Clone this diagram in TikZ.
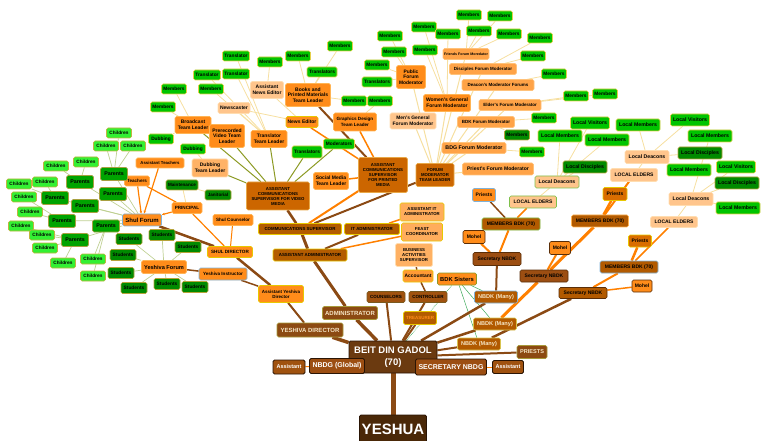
\documentclass[tikz,border=0pt]{standalone}
\usepackage{fontspec}
\setmainfont{Liberation Sans}
\usetikzlibrary{arrows.meta, backgrounds}
\newcommand{\fsz}[2]{\fontsize{#1}{#2}\selectfont\bfseries}

\definecolor{memgreen}{HTML}{00C400}
\definecolor{memedge}{HTML}{E6CF4A}
\definecolor{darkgreen}{HTML}{008A00}
\definecolor{darkedge}{HTML}{B7A33A}
\definecolor{kidgreen}{HTML}{33F033}
\definecolor{kidedge}{HTML}{C2B33F}
\definecolor{pargreen}{HTML}{00A300}
\definecolor{paredge}{HTML}{A8A040}
\definecolor{leadorange}{HTML}{FF8C1A}
\definecolor{leadedge}{HTML}{FFB454}
\definecolor{forumorange}{HTML}{FFA347}
\definecolor{forumedge}{HTML}{FFC27A}
\definecolor{peach}{HTML}{FFC58C}
\definecolor{peachedge}{HTML}{FFDDB0}
\definecolor{rust}{HTML}{CC6600}
\definecolor{rustedge}{HTML}{E8A848}
\definecolor{supfill}{HTML}{B35C00}
\definecolor{supedge}{HTML}{E8C800}
\definecolor{brnfill}{HTML}{8C4A12}
\definecolor{brnedge}{HTML}{A89A3A}
\definecolor{cream}{HTML}{F6E6C6}
\definecolor{nbdkfill}{HTML}{B25A00}
\definecolor{nbdkedge}{HTML}{D8C450}
\definecolor{tinyfill}{HTML}{A0520F}
\definecolor{tinyedge}{HTML}{7A5A20}
\definecolor{secfill}{HTML}{9C4E12}
\definecolor{secedge}{HTML}{5A2E08}
\definecolor{bdgfill}{HTML}{6B3A10}
\definecolor{bdgedge}{HTML}{2A1505}
\definecolor{yesfill}{HTML}{4A2808}
\definecolor{blueedge}{HTML}{7FB2D9}
\definecolor{grnedge}{HTML}{7DC04B}
\definecolor{trunkc}{HTML}{8B4A14}
\definecolor{orangec}{HTML}{FF8000}
\definecolor{palec}{HTML}{F6DFA0}
\definecolor{olivec}{HTML}{8C9A24}
\definecolor{kidc}{HTML}{BFD092}
\definecolor{grnc}{HTML}{3DAA5A}

\tikzset{
  box/.style={rounded corners=1.5pt, inner sep=0.8pt, align=center, line width=0.6pt, font=\fsz{5}{5.6}},
  mem/.style={box, fill=memgreen, draw=memedge, minimum width=25pt, minimum height=10pt, font=\fsz{4.8}{5.4}},
  memd/.style={mem, fill=darkgreen, draw=darkedge},
  kid/.style={mem, fill=kidgreen, draw=kidedge, font=\fsz{4.7}{5.3}},
  par/.style={box, fill=pargreen, draw=paredge, minimum width=27pt, minimum height=13pt, font=\fsz{5.3}{6}},
  loc/.style={mem, minimum width=44pt, minimum height=12pt, font=\fsz{5.2}{6}},
  lead/.style={box, fill=leadorange, draw=leadedge},
  forum/.style={box, fill=forumorange, draw=forumedge, minimum height=11pt, font=\fsz{4.5}{5.2}},
  peachbox/.style={box, fill=peach, draw=peachedge},
  rustbox/.style={box, fill=rust, draw=rustedge, font=\fsz{4.3}{5}},
  supbox/.style={box, fill=supfill, draw=supedge, font=\fsz{4.4}{5}},
  brnbox/.style={box, fill=brnfill, draw=brnedge, text=cream, font=\fsz{6}{7}},
  nbdkbox/.style={box, fill=nbdkfill, draw=nbdkedge, text=cream, minimum width=43pt, minimum height=12pt, font=\fsz{5.6}{6.5}},
  tinybrn/.style={box, fill=tinyfill, draw=tinyedge, minimum width=38pt, minimum height=11pt, font=\fsz{4.5}{5}},
  secbox/.style={box, fill=secfill, draw=secedge, minimum width=48pt, minimum height=12pt, font=\fsz{5}{6}},
  mbdkbox/.style={box, fill=nbdkfill, draw=leadedge, minimum width=58pt, minimum height=12pt, font=\fsz{5}{6}},
  topbox/.style={box, fill=bdgfill, draw=bdgedge, text=white, line width=0.8pt},
  trunk/.style={draw=trunkc, line width=#1}, trunk/.default=4pt,
  orng/.style={draw=orangec, line width=#1}, orng/.default=1.2pt,
  pl/.style={draw=palec, line width=0.8pt},
  olv/.style={draw=olivec, line width=1pt},
  kl/.style={draw=kidc, line width=0.7pt},
  gl/.style={draw=grnc, line width=0.5pt},
  tip/.style={-{Stealth[length=3pt, width=2.5pt]}}
}

\begin{document}
\begin{tikzpicture}[x=1pt, y=-1pt]
\useasboundingbox (0,0) rectangle (761,441);

% core of the tree
\node[topbox, fill=yesfill, minimum width=67pt, minimum height=28pt, font=\fsz{15}{17}] (yeshua) at (393,429) {YESHUA};
\node[topbox, minimum width=88pt, minimum height=32pt, font=\fsz{9.5}{11.5}] (bdg) at (393,357) {BEIT DIN GADOL\\(70)};
\node[topbox, fill=secfill, minimum width=55pt, minimum height=15pt, font=\fsz{7}{8}] (nbdg) at (337,366) {NBDG (Global)};
\node[topbox, fill=secfill, minimum width=71pt, minimum height=16pt, font=\fsz{7}{8}] (secn) at (451,367) {SECRETARY NBDG};
\node[topbox, fill=tinyfill, minimum width=32pt, minimum height=14pt, font=\fsz{5.5}{6}] (asl) at (289,367) {Assistant};
\node[topbox, fill=tinyfill, minimum width=31pt, minimum height=13pt, font=\fsz{5.5}{6}] (asr) at (508,367) {Assistant};
\node[brnbox, minimum width=30pt, minimum height=13pt, font=\fsz{5.6}{6.5}] (priests) at (532,352) {PRIESTS};
\node[brnbox, minimum width=55pt, minimum height=13pt] (admin) at (350,313) {ADMINISTRATOR};
\node[brnbox, minimum width=66pt, minimum height=14pt] (ydir) at (310,330) {YESHIVA DIRECTOR};
\node[nbdkbox, draw=blueedge] (nbdk1) at (496,297) {NBDK (Many)};
\node[nbdkbox] (nbdk2) at (495,324) {NBDK (Many)};
\node[nbdkbox] (nbdk3) at (479,344) {NBDK (Many)};
\node[tinybrn] (couns) at (386,297) {COUNSELORS};
\node[tinybrn] (ctrl) at (428,297) {CONTROLLER};
\node[tinybrn, text=leadorange, fill=supfill, draw=supedge, minimum width=33pt, minimum height=13pt] (treas) at (420,318) {TREASURER};

% administration
\node[supbox, minimum width=83pt, minimum height=11pt] (comsup) at (300,229) {COMMUNICATIONS SUPERVISOR};
\node[supbox, minimum width=55pt, minimum height=11pt] (itadm) at (372,229) {IT ADMINISTRATOR};
\node[supbox, minimum width=74pt, minimum height=12pt] (asadm) at (310,255) {ASSISTANT ADMINISTRATOR};
\node[peachbox, draw=supedge, fill=forumorange!70!peach, minimum width=44pt, minimum height=18pt, font=\fsz{4.3}{5}] (aitadm) at (422,212) {ASSISTANT IT\\ADMINISTRATOR};
\node[peachbox, draw=supedge, fill=forumorange!70!peach, minimum width=41pt, minimum height=18pt, font=\fsz{4.3}{5}] (feast) at (422,232) {FEAST\\COORDINATOR};
\node[peachbox, fill=forumorange!60!peach, minimum width=37pt, minimum height=23pt, font=\fsz{4.3}{5}] (bas) at (414,255) {BUSINESS\\ACTIVITIES\\SUPERVISOR};
\node[lead, fill=forumorange!60!leadorange, draw=supedge, minimum width=30pt, minimum height=12pt, font=\fsz{4.9}{5.5}] (acct) at (418,276) {Accountant};
\node[lead, draw=olivec, minimum width=39pt, minimum height=12pt, font=\fsz{5.8}{6.5}] (bdks) at (457,279) {BDK Sisters};

% media
\node[rustbox, minimum width=63pt, minimum height=28pt] (acsv) at (278,196) {ASSISTANT\\COMMUNICATIONS\\SUPERVISOR FOR VIDEO\\MEDIA};
\node[rustbox, minimum width=49pt, minimum height=35pt] (acsp) at (383,175) {ASSISTANT\\COMMUNICATIONS\\SUPERVISOR\\FOR PRINTED\\MEDIA};
\node[lead, minimum width=35pt, minimum height=17pt] (smtl) at (331,181) {Social Media\\Team Leader};
\node[lead, minimum width=36pt, minimum height=17pt] (bcast) at (193,125) {Broadcast\\Team Leader};
\node[lead, minimum width=35pt, minimum height=23pt] (prerec) at (227,136) {Prerecorded\\Video Team\\Leader};
\node[lead, minimum width=36pt, minimum height=17pt] (trtl) at (269,139) {Translator\\Team Leader};
\node[peachbox, fill=forumorange!55!peach, minimum width=36pt, minimum height=18pt] (dubtl) at (210,168) {Dubbing\\Team Leader};
\node[peachbox, minimum width=32pt, minimum height=11pt] (newsc) at (234,108) {Newscaster};
\node[peachbox, minimum width=33pt, minimum height=17pt] (ane) at (267,90) {Assistant\\News Editor};
\node[lead, minimum width=45pt, minimum height=23pt] (books) at (308,95) {Books and\\Printed Materials\\Team Leader};
\node[lead, draw=supedge, minimum width=32pt, minimum height=11pt] (nedit) at (302,122) {News Editor};
\node[lead, minimum width=43pt, minimum height=18pt, font=\fsz{4.6}{5.3}] (graph) at (355,122) {Graphics Design\\Team Leader};
\node[mem, minimum width=31pt] (mod) at (339,144) {Moderators};
\node[mem, minimum width=30pt, minimum height=12pt] (tL) at (307,152) {Translators};
\node[mem, minimum width=27pt] (tr1) at (236,56) {Translator};
\node[mem, minimum width=27pt] (tr2) at (207,75) {Translator};
\node[mem, minimum width=27pt] (tr3) at (236,74) {Translator};
\node[mem] (mT) at (211,89) {Members};
\node[mem] (mB1) at (270,62) {Members};
\node[mem] (mB2) at (298,56) {Members};
\node[mem] (mB3) at (340,46) {Members};
\node[mem, minimum width=30pt] (tB) at (322,72) {Translators};
\node[mem] (mBc1) at (174,89) {Members};
\node[mem] (mBc2) at (163,107) {Members};
\node[mem] (dub1) at (161,139) {Dubbing};
\node[mem] (dub2) at (193,149) {Dubbing};

% forums
\node[rustbox, minimum width=38pt, minimum height=23pt] (fmtl) at (435,175) {FORUM\\MODERATOR\\TEAM LEADER};
\node[lead, minimum width=29pt, minimum height=23pt, font=\fsz{4.9}{5.6}] (pub) at (411,77) {Public\\Forum\\Moderator};
\node[lead, minimum width=47pt, minimum height=17pt] (wgen) at (447,103) {Women's General\\Forum Moderator};
\node[peachbox, minimum width=46pt, minimum height=16pt, font=\fsz{4.9}{5.6}] (mgen) at (413,121) {Men's General\\Forum Moderator};
\node[forum, minimum width=46pt, font=\fsz{3.6}{4.2}] (friends) at (466,54) {Friends Forum Moredator};
\node[forum, minimum width=67pt] (disc) at (483,69) {Disciples Forum Moderator};
\node[forum, minimum width=72pt] (deac) at (498,85) {Deacon's Moderator Forums};
\node[forum, minimum width=62pt] (elder) at (510,105) {Elder's Forum Moderator};
\node[forum, minimum width=57pt] (bdkf) at (486,122) {BDK Forum Moderator};
\node[forum, minimum width=64pt, font=\fsz{5.3}{6}] (bdgf) at (474,148) {BDG Forum Moderator};
\node[forum, minimum width=71pt, minimum height=12pt, font=\fsz{5.1}{6}] (priestf) at (498,169) {Priest's Forum Moderator};
\node[mem] (mA) at (469,15) {Members};
\node[mem] (mB) at (500,16) {Members};
\node[mem] (mC) at (479,31) {Members};
\node[mem] (mD) at (509,34) {Members};
\node[mem] (mE) at (540,38) {Members};
\node[mem] (mF) at (533,56) {Members};
\node[mem] (mG) at (554,74) {Members};
\node[mem] (mH) at (576,96) {Members};
\node[mem] (mI) at (605,94) {Members};
\node[mem] (mJ) at (544,118) {Members};
\node[memd] (mK) at (517,135) {Members};
\node[mem] (mL) at (532,152) {Members};
\node[mem] (mW1) at (424,27) {Members};
\node[mem] (mW2) at (448,34) {Members};
\node[mem] (mW3) at (425,50) {Members};
\node[mem] (mP1) at (390,36) {Members};
\node[mem] (mP2) at (394,52) {Members};
\node[mem] (mP3) at (377,65) {Members};
\node[mem, minimum width=30pt] (tP) at (377,82) {Translators};
\node[mem] (mP4) at (380,101) {Members};
\node[mem] (mP5) at (354,101) {Members};

% BDK branches
\node[lead, draw=blueedge, minimum width=23pt, minimum height=13pt] (pr1) at (484,195) {Priests};
\node[peachbox, draw=grnedge, minimum width=47pt, minimum height=12pt] (le1) at (533,202) {LOCAL ELDERS};
\node[mbdkbox, draw=grnedge] (mbdk1) at (511,224) {MEMBERS BDK (70)};
\node[lead, draw=secedge, minimum width=22pt, minimum height=13pt] (moh1) at (474,237) {Mohel};
\node[secbox, minimum height=13pt] (sec1) at (497,259) {Secretary NBDK};
\node[lead, draw=secedge, minimum width=21pt, minimum height=13pt] (moh2) at (560,248) {Mohel};
\node[secbox] (sec2) at (544,276) {Secretary NBDK};
\node[secbox, fill=nbdkfill, minimum height=11pt] (sec3) at (583,293) {Secretary NBDK};
\node[lead, draw=secedge, minimum width=20pt, minimum height=12pt] (moh3) at (642,286) {Mohel};
\node[mbdkbox, minimum width=57pt] (mbdk2) at (600,221) {MEMBERS BDK (70)};
\node[lead, fill=orangec!85!black, draw=supedge, minimum width=24pt, minimum height=13pt] (pr2) at (615,194) {Priests};
\node[peachbox, minimum width=47pt, minimum height=13pt] (le2) at (634,175) {LOCAL ELDERS};
\node[lead, fill=orangec!85!black, draw=supedge, minimum width=23pt, minimum height=12pt] (pr3) at (640,241) {Priests};
\node[peachbox, minimum width=47pt, minimum height=11pt] (le3) at (674,222) {LOCAL ELDERS};
\node[mbdkbox, draw=blueedge] (mbdk3) at (629,267) {MEMBERS BDK (70)};
\node[peachbox, draw=grnedge, minimum width=44pt, minimum height=12pt, font=\fsz{5.2}{6}] (ldc1) at (557,182) {Local Deacons};
\node[peachbox, minimum width=44pt, minimum height=13pt, font=\fsz{5.2}{6}] (ldc2) at (647,157) {Local Deacons};
\node[peachbox, minimum width=44pt, minimum height=13pt, font=\fsz{5.2}{6}] (ldc3) at (691,199) {Local Deacons};
\node[loc, minimum width=39pt] (lv1) at (590,123) {Local Visitors};
\node[loc] (lm1) at (638,125) {Local Members};
\node[loc, minimum width=39pt] (lv2) at (690,120) {Local Visitors};
\node[loc] (lm2) at (710,136) {Local Members};
\node[loc] (lm3) at (607,140) {Local Members};
\node[loc] (lm4) at (560,136) {Local Members};
\node[loc, fill=darkgreen, draw=darkedge] (ld1) at (585,167) {Local Disciples};
\node[loc, fill=darkgreen, draw=darkedge] (ldi2) at (700,153) {Local Disciples};
\node[loc] (lm5) at (689,170) {Local Members};
\node[loc, minimum width=39pt] (lv3) at (736,167) {Local Visitors};
\node[loc, fill=darkgreen, draw=darkedge] (ldi3) at (737,183) {Local Disciples};
\node[loc] (lm6) at (738,208) {Local Members};

% schools
\node[lead, draw=blueedge, minimum width=39pt, minimum height=12pt, font=\fsz{6}{7}] (shul) at (142,220) {Shul Forum};
\node[lead, minimum width=45pt, minimum height=13pt, font=\fsz{5.6}{6.5}] (yf) at (164,267) {Yeshiva Forum};
\node[lead, minimum width=25pt, minimum height=10pt, font=\fsz{4.6}{5.2}] (teach) at (137,181) {Teachers};
\node[lead, minimum width=48pt, minimum height=10pt, font=\fsz{4.3}{5}] (ateach) at (160,163) {Assistant Teachers};
\node[memd, minimum width=32pt, font=\fsz{4.6}{5.2}] (maint) at (182,185) {Maintenance};
\node[lead, minimum width=30pt, minimum height=11pt, font=\fsz{4.6}{5.2}] (princ) at (187,208) {PRINCIPAL};
\node[memd, minimum width=26pt, font=\fsz{4.6}{5.2}] (jan) at (218,195) {Janitorial};
\node[lead, minimum width=40pt, minimum height=11pt, font=\fsz{4.6}{5.2}] (scoun) at (233,220) {Shul Counselor};
\node[lead, draw=supedge, minimum width=45pt, minimum height=11pt, font=\fsz{4.6}{5.2}] (sdir) at (230,252) {SHUL DIRECTOR};
\node[lead, draw=blueedge, minimum width=48pt, minimum height=12pt, font=\fsz{4.6}{5.2}] (yins) at (223,274) {Yeshiva Instructor};
\node[lead, draw=supedge, minimum width=45pt, minimum height=17pt, font=\fsz{4.5}{5.2}] (ayd) at (281,294) {Assistant Yeshiva\\Director};
\node[par] (p1) at (114,174) {Parents};
\node[par] (p2) at (113,194) {Parents};
\node[par] (p3) at (80,182) {Parents};
\node[par] (p4) at (55,198) {Parents};
\node[par] (p5) at (85,206) {Parents};
\node[par] (p6) at (62,221) {Parents};
\node[par, minimum height=12pt] (p7) at (106,226) {Parents};
\node[par] (p8) at (75,240) {Parents};
\node[kid] (c1) at (119,133) {Children};
\node[kid] (c2) at (106,146) {Children};
\node[kid] (c3) at (133,146) {Children};
\node[kid] (c4) at (86,162) {Children};
\node[kid] (c5) at (56,166) {Children};
\node[kid] (c6) at (45,182) {Children};
\node[kid] (c7) at (19,184) {Children};
\node[kid] (c8) at (24,197) {Children};
\node[kid] (c9) at (30,212) {Children};
\node[kid] (c10) at (21,226) {Children};
\node[kid] (c11) at (42,235) {Children};
\node[kid] (c12) at (45,248) {Children};
\node[kid] (c13) at (63,263) {Children};
\node[kid] (c14) at (93,259) {Children};
\node[kid] (c15) at (93,276) {Children};
\node[memd, minimum width=26pt, minimum height=11pt] (s1) at (129,239) {Students};
\node[memd, minimum width=26pt, minimum height=11pt] (s2) at (162,235) {Students};
\node[memd, minimum width=26pt, minimum height=11pt] (s3) at (123,255) {Students};
\node[memd, minimum width=26pt, minimum height=11pt] (s4) at (121,273) {Students};
\node[memd, minimum width=26pt, minimum height=11pt] (s5) at (134,288) {Students};
\node[memd, minimum width=26pt, minimum height=11pt] (s6) at (167,284) {Students};
\node[memd, minimum width=26pt, minimum height=11pt] (s7) at (188,247) {Students};
\node[memd, minimum width=26pt, minimum height=11pt] (s8) at (195,287) {Students};

% connectors
\begin{scope}[on background layer]
\draw[trunk=5pt] (yeshua) -- (bdg);
\draw[trunk=3pt] (bdg) -- (nbdg);
\draw[orng=1pt] (nbdg) -- (asl);
\draw[trunk=3pt] (bdg) -- (secn);
\draw[orng=1pt] (secn) -- (asr);
\draw[trunk=2pt] (bdg) -- (priests);
\draw[trunk=3.5pt] (bdg) -- (ydir);
\draw[trunk=2pt] (ydir) -- (ayd);
\draw[trunk=3.5pt] (bdg) -- (admin);
\draw[trunk=2pt] (bdg) -- (couns);
\draw[trunk=2pt] (bdg) -- (ctrl);
\draw[trunk=2pt] (bdg) -- (treas);
\draw[trunk=1.5pt] (ctrl) -- (acct);
\draw[trunk=1.5pt] (acct) -- (bas);
\draw[gl, densely dotted, line width=0.8pt] (bdg) -- (bdks);
\foreach \n in {nbdk1,nbdk2,nbdk3} \draw[gl] (bdks) -- (\n);
\draw[trunk=2.5pt] (bdg) -- (nbdk1);
\draw[trunk=2.5pt] (bdg) -- (nbdk2);
\draw[trunk=2pt] (bdg) -- (nbdk3);
\draw[trunk=2pt] (nbdk1) -- (sec1);
\draw[orng=3pt] (nbdk2) -- (sec2);
\draw[trunk=2.5pt] (nbdk3) -- (sec3);
\draw[orng=2pt] (sec1) -- (moh1);
\draw[orng=2pt] (sec1) -- (mbdk1);
\draw[trunk=1.5pt] (mbdk1) -- (pr1);
\draw[orng=1.5pt] (mbdk1) -- (le1);
\draw[pl] (le1) -- (ldc1);
\foreach \n in {ld1,lm4,lm3,lv1} \draw[pl] (ldc1) -- (\n);
\draw[orng=2pt] (sec2) -- (moh2);
\draw[orng=3pt] (sec2) -- (mbdk2);
\draw[orng=2.5pt] (mbdk2) -- (pr2);
\draw[orng=2pt] (mbdk2) -- (le2);
\draw[pl] (le2) -- (ldc2);
\foreach \n in {ldi2,lm5,lm1,lv2} \draw[pl] (ldc2) -- (\n);
\draw[orng=1.5pt] (sec3) -- (moh3);
\draw[orng=2pt] (sec3) -- (mbdk3);
\draw[orng=2.5pt] (mbdk3) -- (pr3);
\draw[orng=1.5pt] (mbdk3) -- (le3);
\draw[pl] (le3) -- (ldc3);
\foreach \n in {lv3,ldi3,lm6,lm2} \draw[pl] (ldc3) -- (\n);
% administration
\draw[trunk=3pt] (admin) -- (asadm);
\draw[trunk=3pt] (asadm) -- (comsup);
\draw[trunk=2pt] (asadm) -- (itadm);
\draw[orng=1.5pt] (asadm) -- (feast);
\draw[orng=1.5pt] (itadm) -- (aitadm);
\draw[trunk=2.5pt] (comsup) -- (acsv);
\draw[orng=2pt] (comsup) -- (acsp);
\draw[trunk=2pt] (comsup) -- (fmtl);
\draw[trunk=2pt] (acsp) -- (books);
\draw[orng=1.5pt] (acsp) -- (nedit);
\draw[orng=1.5pt] (acsp) -- (graph);
\draw[orng=1.5pt] (acsp) -- (smtl);
\draw[olv] (acsv) -- (mod);
\draw[olv] (acsv) -- (tL);
\foreach \n in {bcast,prerec,trtl,dubtl} \draw[olv] (acsv) -- (\n);
\foreach \n in {mBc1,mBc2,dub1} \draw[pl] (bcast) -- (\n);
\draw[pl] (dubtl) -- (dub2);
\foreach \n in {tr1,tr2,tr3,mT,newsc} \draw[pl] (trtl) -- (\n);
\draw[pl] (newsc) -- (nedit);
\draw[pl] (nedit) -- (ane);
\draw[pl] (ane) -- (mB1);
\foreach \n in {mB2,mB3,tB,mP5} \draw[pl] (books) -- (\n);
\draw[pl] (graph) -- (mP4);
\foreach \n in {mP1,mP2,mP3,tP} \draw[pl] (pub) -- (\n);
% forums
\foreach \n in {pub,wgen,mgen,friends,disc,deac,elder,bdkf,bdgf,priestf} \draw[pl, line width=1pt] (fmtl) -- (\n);
\foreach \n in {mA,mB,mC,mD} \draw[pl] (friends) -- (\n);
\foreach \n in {mE,mF} \draw[pl] (disc) -- (\n);
\draw[pl] (deac) -- (mG);
\foreach \n in {mH,mI} \draw[pl] (elder) -- (\n);
\foreach \n in {mJ,mK} \draw[pl] (bdkf) -- (\n);
\draw[pl] (bdgf) -- (mL);
\foreach \n in {mW1,mW2,mW3} \draw[pl] (wgen) -- (\n);
% schools
\draw[trunk=2.5pt] (shul) -- (sdir);
\draw[trunk=2.5pt] (sdir) -- (ayd);
\draw[orng=1pt] (sdir) -- (scoun);
\draw[orng=1.2pt] (sdir) -- (princ);
\draw[orng, tip] (princ) -- (shul);
\draw[orng, tip] (teach) -- (shul);
\draw[orng, tip] (ateach) -- (shul);
\draw[orng] (teach) -- (princ);
\draw[pl] (princ) -- (maint);
\draw[pl] (maint) -- (jan);
\draw[trunk=1.5pt] (yins) -- (yf);
\draw[trunk=1.5pt] (ayd) -- (yins);
\foreach \n in {p1,p2,p3,p4,p5,p6,p7,p8} \draw[kl] (shul) -- (\n);
\foreach \n in {c1,c2,c3} \draw[kl] (p1) -- (\n);
\foreach \n in {c4,c5} \draw[kl] (p3) -- (\n);
\foreach \n in {c6,c7} \draw[kl] (p4) -- (\n);
\foreach \n in {c8,c9} \draw[kl] (p6) -- (\n);
\foreach \n in {c10,c11,c12,c13} \draw[kl] (p8) -- (\n);
\foreach \n in {c14,c15} \draw[kl] (p7) -- (\n);
\foreach \n in {s1,s2,s3,s4,s5,s6,s7,s8} \draw[kl] (yf) -- (\n);
\end{scope}
\end{tikzpicture}
\end{document}
